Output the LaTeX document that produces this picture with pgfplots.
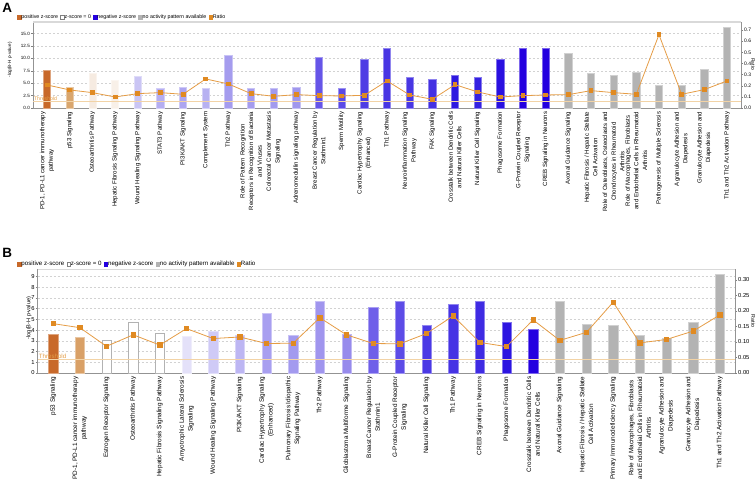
\documentclass[border=0pt]{standalone}
\usepackage{fontspec}
\setmainfont{Liberation Sans}
\usepackage{pgfplots}
\pgfplotsset{compat=1.18}

\definecolor{posc}{HTML}{C8692A}
\definecolor{negc}{HTML}{2400E0}
\definecolor{nac}{HTML}{B3B3B3}
\definecolor{ratioline}{HTML}{E59C45}
\definecolor{ratiomark}{HTML}{E08A22}
\definecolor{thresh}{HTML}{F2D3A6}
\definecolor{threshtxt}{HTML}{E39E48}

% one bar: id, x, y, hex colour
\newcommand\bbar[4]{\definecolor{bc#1}{HTML}{#4}%
  \addplot[forget plot, ybar, bar shift=0pt, fill=bc#1, draw=bc#1!60!white, line width=0.5bp] coordinates {(#2,#3)};}
% z-score = 0 bar (open)
\newcommand\wbar[2]{%
  \addplot[forget plot, ybar, bar shift=0pt, fill=white, draw=gray!60, line width=0.6bp] coordinates {(#1,#2)};}

\pgfplotsset{
  panel/.style={
    scale only axis, anchor=south west,
    /pgf/number format/assume math mode=true,
    tick align=outside, major tick length=2bp,
    tick style={gray}, xtick style={draw=none},
    axis line style={draw=gray!85, line width=0.5bp},
    clip=false,
  },
  legsq/.style={
    legend image code/.code={\draw[##1, line width=0.3bp] (0bp,-1.7bp) rectangle (3.4bp,1.7bp);},
    legend style={draw=none, fill=none, inner sep=0pt, legend columns=-1,
      nodes={inner sep=0.6bp},
      /tikz/every even column/.append style={column sep=1.6bp}},
    legend cell align=left,
  },
}

\begin{document}
\begin{tikzpicture}
\path[use as bounding box] (0,0) rectangle (756bp,-482bp);
\node[anchor=base west, inner sep=0, font=\fontsize{13.5}{14}\selectfont\bfseries] at (2.2bp,-12.5bp) {A};
\node[anchor=base west, inner sep=0, font=\fontsize{13.5}{14}\selectfont\bfseries] at (2.2bp,-257.5bp) {B};

%%%%%%%%%%%%%%%% Panel A
\begin{axis}[panel, legsq,
  at={(33bp,-108bp)}, width=708bp, height=86bp,
  xmin=-0.62, xmax=30.62, ymin=0, ymax=17.3,
  bar width=0.32,
  ytick={0,2.5,5,7.5,10,12.5,15}, ytick pos=left, xtick pos=bottom,
  yticklabel style={font=\fontsize{4.6}{5}\selectfont, inner sep=1bp,
    /pgf/number format/fixed, /pgf/number format/fixed zerofill, /pgf/number format/precision=1},
  ymajorgrids, grid style={gray!35, line width=0.4bp, dash pattern=on 2bp off 2bp},
  ylabel={-log(B-H p-value)},
  ylabel style={at={(axis description cs:-0.0325,0.56)}, anchor=center, font=\fontsize{4.6}{5}\selectfont},
  xtick={0,...,30},
  xticklabel style={rotate=90, anchor=east, align=center, inner sep=1.5bp, font=\fontsize{6.1}{8.6}\selectfont},
  xticklabels={{PD-1, PD-L1 cancer immunotherapy\\pathway}, {p53 Signaling}, {Osteoarthritis Pathway},
    {Hepatic Fibrosis Signaling Pathway}, {Wound Healing Signaling Pathway}, {STAT3 Pathway},
    {PI3K/AKT Signaling}, {Complement System}, {Th2 Pathway},
    {Role of Pattern Recognition\\Receptors in Recognition of Bacteria\\and Viruses},
    {Colorectal Cancer Metastasis\\Signaling}, {Adrenomedullin signaling pathway},
    {Breast Cancer Regulation by\\Stathmin1}, {Sperm Motility},
    {Cardiac Hypertrophy Signaling\\(Enhanced)}, {Th1 Pathway},
    {Neuroinflammation Signaling\\Pathway}, {FAK Signaling},
    {Crosstalk between Dendritic Cells\\and Natural Killer Cells}, {Natural Killer Cell Signaling},
    {Phagosome Formation}, {G-Protein Coupled Receptor\\Signaling}, {CREB Signaling in Neurons},
    {Axonal Guidance Signaling}, {Hepatic Fibrosis / Hepatic Stellate\\Cell Activation},
    {Role of Osteoblasts, Osteoclasts and\\Chondrocytes in Rheumatoid\\Arthritis},
    {Role of Macrophages, Fibroblasts\\and Endothelial Cells in Rheumatoid\\Arthritis},
    {Pathogenesis of Multiple Sclerosis}, {Agranulocyte Adhesion and\\Diapedesis},
    {Granulocyte Adhesion and\\Diapedesis}, {Th1 and Th2 Activation Pathway}},
  legend style={at={(axis description cs:-0.0226,1.058)}, anchor=west, font=\fontsize{5.3}{6}\selectfont},
]
\bbar{a0}{0}{7.5}{C8692A}
\bbar{a1}{1}{4.1}{D9A66E}
\bbar{a2}{2}{7.05}{F6EBE1}
\bbar{a3}{3}{5.5}{F8F0E8}
\bbar{a4}{4}{6.4}{CAC5F4}
\bbar{a5}{5}{3.9}{B5AEF1}
\bbar{a6}{6}{4.1}{ADA5F0}
\bbar{a7}{7}{4.0}{B7B1F1}
\bbar{a8}{8}{10.7}{A59CEE}
\bbar{a9}{9}{4.0}{A59CEE}
\bbar{a10}{10}{4.0}{A29AEE}
\bbar{a11}{11}{4.2}{A097ED}
\bbar{a12}{12}{10.2}{6655E8}
\bbar{a13}{13}{4.0}{5B4AE6}
\bbar{a14}{14}{9.9}{4E3DE4}
\bbar{a15}{15}{12.0}{4835E3}
\bbar{a16}{16}{6.25}{4937E3}
\bbar{a17}{17}{5.85}{4431E2}
\bbar{a18}{18}{6.5}{2E18E0}
\bbar{a19}{19}{6.2}{3521E1}
\bbar{a20}{20}{9.75}{2A10E0}
\bbar{a21}{21}{12.0}{2400DF}
\bbar{a22}{22}{12.0}{2400DF}
\bbar{a23}{23}{11.0}{B3B3B3}
\bbar{a24}{24}{7.0}{B3B3B3}
\bbar{a25}{25}{6.6}{B3B3B3}
\bbar{a26}{26}{7.2}{B3B3B3}
\bbar{a27}{27}{4.6}{B3B3B3}
\bbar{a28}{28}{4.6}{B3B3B3}
\bbar{a29}{29}{7.7}{B3B3B3}
\bbar{a30}{30}{16.3}{B3B3B3}
\addplot[forget plot, draw=thresh, line width=0.7bp] coordinates {(-0.62,1.3) (30.62,1.3)};
\node[anchor=south west, inner sep=0.4bp, text=threshtxt, font=\fontsize{5.2}{6}\selectfont] at (axis cs:-0.6,1.3) {Threshold};
\draw[gray!30, line width=1.2bp] (rel axis cs:0,1) -- (rel axis cs:1,1);
\addlegendimage{fill=posc, draw=posc}
\addlegendentry{positive z-score}
\addlegendimage{fill=white, draw=gray}
\addlegendentry{z-score = 0}
\addlegendimage{fill=negc, draw=negc}
\addlegendentry{negative z-score}
\addlegendimage{fill=nac, draw=nac}
\addlegendentry{no activity pattern available}
\addlegendimage{fill=ratiomark, draw=ratiomark}
\addlegendentry{Ratio}
\end{axis}

\begin{axis}[panel,
  at={(33bp,-108bp)}, width=708bp, height=86bp,
  xmin=-0.62, xmax=30.62, ymin=0, ymax=0.772,
  axis x line=none, axis y line*=right, y axis line style={-},
  ytick={0,0.1,0.2,0.3,0.4,0.5,0.6,0.7},
  yticklabel style={font=\fontsize{5}{5}\selectfont, inner sep=1bp,
    /pgf/number format/fixed, /pgf/number format/fixed zerofill, /pgf/number format/precision=1},
  ylabel={Ratio},
  ylabel style={at={(axis description cs:1.017,0.51)}, anchor=center, rotate=180, font=\fontsize{5}{5}\selectfont},
]
\addplot[color=ratioline, line width=0.8bp, mark=square*, mark size=1.9bp,
  mark options={fill=ratiomark, draw=ratiomark}] coordinates {
  (0,0.207) (1,0.162) (2,0.138) (3,0.099) (4,0.129) (5,0.138) (6,0.123) (7,0.261)
  (8,0.216) (9,0.129) (10,0.105) (11,0.120) (12,0.111) (13,0.108) (14,0.114) (15,0.243)
  (16,0.117) (17,0.078) (18,0.210) (19,0.144) (20,0.099) (21,0.111) (22,0.117) (23,0.120)
  (24,0.156) (25,0.138) (26,0.123) (27,0.658) (28,0.123) (29,0.165) (30,0.243)};
\end{axis}

%%%%%%%%%%%%%%%% Panel B
\begin{axis}[panel, legsq,
  at={(37.7bp,-373bp)}, width=697.3bp, height=103.7bp,
  xmin=-0.58, xmax=25.57, ymin=0, ymax=9.65,
  bar width=0.35,
  ytick={0,1,...,9}, ytick pos=left, xtick pos=bottom,
  yticklabel style={font=\fontsize{5.8}{6}\selectfont, inner sep=1bp},
  ymajorgrids, grid style={gray!35, line width=0.4bp, dash pattern=on 2bp off 2bp},
  ylabel={-log(B-H p-value)},
  ylabel style={at={(axis description cs:-0.0125,0.53)}, anchor=center, font=\fontsize{5.6}{6}\selectfont},
  xtick={0,...,25},
  xticklabel style={rotate=90, anchor=east, align=center, inner sep=1.5bp, font=\fontsize{6.4}{8.8}\selectfont},
  xticklabels={{p53 Signaling}, {PD-1, PD-L1 cancer immunotherapy\\pathway}, {Estrogen Receptor Signaling},
    {Osteoarthritis Pathway}, {Hepatic Fibrosis Signaling Pathway},
    {Amyotrophic Lateral Sclerosis\\Signaling}, {Wound Healing Signaling Pathway}, {PI3K/AKT Signaling},
    {Cardiac Hypertrophy Signaling\\(Enhanced)}, {Pulmonary Fibrosis Idiopathic\\Signaling Pathway},
    {Th2 Pathway}, {Glioblastoma Multiforme Signaling}, {Breast Cancer Regulation by\\Stathmin1},
    {G-Protein Coupled Receptor\\Signaling}, {Natural Killer Cell Signaling}, {Th1 Pathway},
    {CREB Signaling in Neurons}, {Phagosome Formation},
    {Crosstalk between Dendritic Cells\\and Natural Killer Cells}, {Axonal Guidance Signaling},
    {Hepatic Fibrosis / Hepatic Stellate\\Cell Activation}, {Primary Immunodeficiency Signaling},
    {Role of Macrophages, Fibroblasts\\and Endothelial Cells in Rheumatoid\\Arthritis},
    {Agranulocyte Adhesion and\\Diapedesis}, {Granulocyte Adhesion and\\Diapedesis},
    {Th1 and Th2 Activation Pathway}},
  legend style={at={(axis description cs:-0.0297,1.051)}, anchor=west, font=\fontsize{6.2}{7}\selectfont},
]
\bbar{b0}{0}{3.6}{C8692A}
\bbar{b1}{1}{3.32}{D9A066}
\wbar{2}{3.04}
\wbar{3}{4.75}
\wbar{4}{3.66}
\bbar{b5}{5}{3.45}{E4E1F9}
\bbar{b6}{6}{3.9}{CFCAF6}
\bbar{b7}{7}{3.5}{BDB6F3}
\bbar{b8}{8}{5.56}{A89FF0}
\bbar{b9}{9}{3.48}{A39AEF}
\bbar{b10}{10}{6.65}{A095EE}
\bbar{b11}{11}{3.57}{978BEC}
\bbar{b12}{12}{6.09}{6F5FE9}
\bbar{b13}{13}{6.7}{5D4CE7}
\bbar{b14}{14}{4.4}{4B39E5}
\bbar{b15}{15}{6.43}{4633E4}
\bbar{b16}{16}{6.7}{3F2BE3}
\bbar{b17}{17}{4.75}{2D15E1}
\bbar{b18}{18}{4.04}{2400E0}
\bbar{b19}{19}{6.7}{B3B3B3}
\bbar{b20}{20}{4.56}{B3B3B3}
\bbar{b21}{21}{4.4}{B3B3B3}
\bbar{b22}{22}{3.48}{B3B3B3}
\bbar{b23}{23}{3.26}{B3B3B3}
\bbar{b24}{24}{4.72}{B3B3B3}
\bbar{b25}{25}{9.19}{B3B3B3}
\addplot[forget plot, draw=thresh, line width=0.7bp] coordinates {(-0.58,1.3) (25.57,1.3)};
\node[anchor=south west, inner sep=0.4bp, text=threshtxt, font=\fontsize{6.2}{7}\selectfont] at (axis cs:-0.56,1.3) {Threshold};
\draw[gray!30, line width=1.2bp] (rel axis cs:0,1) -- (rel axis cs:1,1);
\addlegendimage{fill=posc, draw=posc}
\addlegendentry{positive z-score}
\addlegendimage{fill=white, draw=gray}
\addlegendentry{z-score = 0}
\addlegendimage{fill=negc, draw=negc}
\addlegendentry{negative z-score}
\addlegendimage{fill=nac, draw=nac}
\addlegendentry{no activity pattern available}
\addlegendimage{fill=ratiomark, draw=ratiomark}
\addlegendentry{Ratio}
\end{axis}

\begin{axis}[panel,
  at={(37.7bp,-373bp)}, width=697.3bp, height=103.7bp,
  xmin=-0.58, xmax=25.57, ymin=0, ymax=0.334,
  axis x line=none, axis y line*=right, y axis line style={-},
  ytick={0,0.05,0.1,0.15,0.2,0.25,0.3},
  yticklabel style={font=\fontsize{5.8}{6}\selectfont, inner sep=1bp,
    /pgf/number format/fixed, /pgf/number format/fixed zerofill, /pgf/number format/precision=2},
  ylabel={Ratio},
  ylabel style={at={(axis description cs:1.026,0.50)}, anchor=center, rotate=180, font=\fontsize{5.3}{6}\selectfont},
]
\addplot[color=ratioline, line width=0.8bp, mark=square*, mark size=2.2bp,
  mark options={fill=ratiomark, draw=ratiomark}] coordinates {
  (0,0.159) (1,0.146) (2,0.086) (3,0.123) (4,0.090) (5,0.143) (6,0.111) (7,0.116)
  (8,0.095) (9,0.096) (10,0.178) (11,0.123) (12,0.095) (13,0.094) (14,0.127) (15,0.184)
  (16,0.0985) (17,0.085) (18,0.171) (19,0.105) (20,0.131) (21,0.228) (22,0.097) (23,0.108)
  (24,0.135) (25,0.187)};
\end{axis}
\end{tikzpicture}
\end{document}
